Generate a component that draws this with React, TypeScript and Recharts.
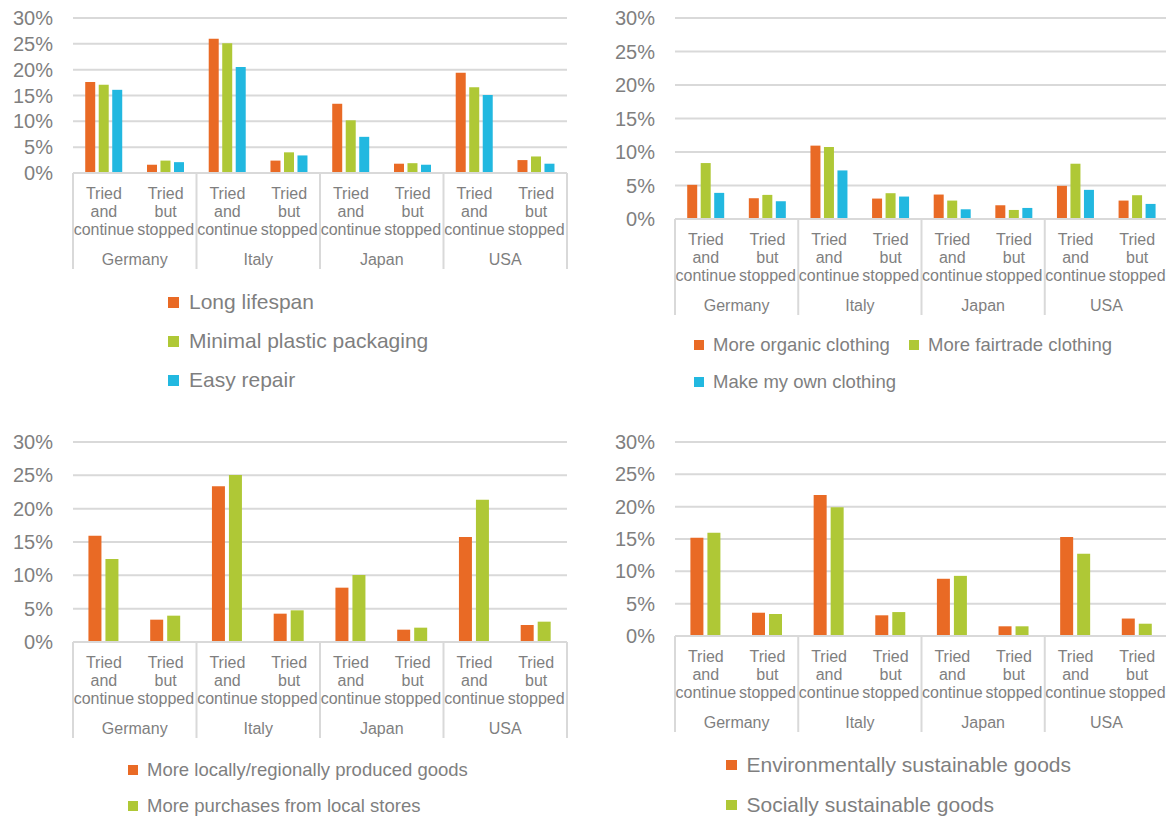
import { BarChart, Bar, XAxis, YAxis, CartesianGrid } from "recharts";

const countries = ["Germany", "Italy", "Japan", "USA"];
const statuses = ["Tried and continue", "Tried but stopped"];
const yTicks = [0, 5, 10, 15, 20, 25, 30];

// % of respondents, order: Germany continue, Germany stopped, Italy continue, ...
const longLifespan = [17.6, 1.6, 26.0, 2.4, 13.4, 1.8, 19.4, 2.5];
const minimalPlastic = [17.1, 2.4, 25.1, 4.0, 10.2, 1.9, 16.6, 3.2];
const easyRepair = [16.1, 2.1, 20.5, 3.4, 7.0, 1.6, 15.1, 1.8];

const organicClothing = [5.1, 3.1, 10.95, 3.05, 3.65, 2.05, 4.95, 2.75];
const fairtradeClothing = [8.35, 3.6, 10.75, 3.85, 2.75, 1.35, 8.25, 3.55];
const ownClothing = [3.9, 2.65, 7.25, 3.35, 1.45, 1.65, 4.35, 2.25];

const localProduced = [15.95, 3.35, 23.35, 4.25, 8.15, 1.85, 15.75, 2.55];
const localStores = [12.45, 3.95, 25.05, 4.75, 10.05, 2.15, 21.35, 3.05];

const envGoods = [15.2, 3.6, 21.8, 3.2, 8.85, 1.5, 15.3, 2.7];
const socialGoods = [15.95, 3.4, 19.9, 3.7, 9.3, 1.5, 12.7, 1.9];

const ORANGE = "#E96A25";
const GREEN = "#AFC836";
const BLUE = "#22B8E0";
const GRID = "#D9D9D9";
const TEXT = "#7F7F7F";
const FONT = "Arial, 'Liberation Sans', Helvetica, sans-serif";

type Series = { name: string; color: string; values: number[] };
type LegendSpot = { x: number; y: number };

type Panel = {
  left: number;
  top: number;
  width: number;
  height: number;
  yWidth: number;
  right: number;
  categoryGap: string;
  barGap: number;
  series: Series[];
  legendFont: number;
  legendSquare: number;
  legendSpots: LegendSpot[];
};

const panels: Panel[] = [
  {
    left: 0, top: 0, width: 580, height: 273, yWidth: 73, right: 13,
    categoryGap: "19.8%", barGap: 3.5,
    series: [
      { name: "Long lifespan", color: ORANGE, values: longLifespan },
      { name: "Minimal plastic packaging", color: GREEN, values: minimalPlastic },
      { name: "Easy repair", color: BLUE, values: easyRepair },
    ],
    legendFont: 21, legendSquare: 11,
    legendSpots: [{ x: 168, y: 302 }, { x: 168, y: 341 }, { x: 168, y: 380 }],
  },
  {
    left: 600, top: 0, width: 580, height: 319, yWidth: 75, right: 12,
    categoryGap: "19.8%", barGap: 3.5,
    series: [
      { name: "More organic clothing", color: ORANGE, values: organicClothing },
      { name: "More fairtrade clothing", color: GREEN, values: fairtradeClothing },
      { name: "Make my own clothing", color: BLUE, values: ownClothing },
    ],
    legendFont: 18.5, legendSquare: 10,
    legendSpots: [{ x: 694, y: 345 }, { x: 909, y: 345 }, { x: 694, y: 382 }],
  },
  {
    left: 0, top: 424, width: 580, height: 318, yWidth: 73, right: 13,
    categoryGap: "25%", barGap: 4,
    series: [
      { name: "More locally/regionally produced goods", color: ORANGE, values: localProduced },
      { name: "More purchases from local stores", color: GREEN, values: localStores },
    ],
    legendFont: 18.5, legendSquare: 10,
    legendSpots: [{ x: 128, y: 770 }, { x: 128, y: 806 }],
  },
  {
    left: 600, top: 424, width: 580, height: 312, yWidth: 75, right: 12,
    categoryGap: "25%", barGap: 4,
    series: [
      { name: "Environmentally sustainable goods", color: ORANGE, values: envGoods },
      { name: "Socially sustainable goods", color: GREEN, values: socialGoods },
    ],
    legendFont: 21, legendSquare: 10.5,
    legendSpots: [{ x: 726, y: 765 }, { x: 726, y: 805 }],
  },
];

function buildRows(series: Series[]) {
  const rows: Record<string, string | number>[] = [];
  countries.forEach((country, ci) => {
    statuses.forEach((status, si) => {
      const i = ci * statuses.length + si;
      const row: Record<string, string | number> = { key: `${country}|${status}` };
      series.forEach((s, k) => {
        row[`s${k}`] = s.values[i];
      });
      rows.push(row);
    });
  });
  return rows;
}

// two-level category tick: status words stacked, country under each pair, separators between countries
function CategoryTick(props: any) {
  const { x, y, payload, index, half, total } = props;
  const [country, status] = String(payload.value).split("|");
  const words = status.split(" ");
  const first = index % statuses.length === 0;
  return (
    <g>
      {first && (
        <line x1={x - half} x2={x - half} y1={y} y2={y + 96} stroke={GRID} strokeWidth={2} />
      )}
      {index === total - 1 && (
        <line x1={x + half} x2={x + half} y1={y} y2={y + 96} stroke={GRID} strokeWidth={2} />
      )}
      <text textAnchor="middle" fill={TEXT} fontSize={16} fontFamily={FONT}>
        {words.map((w, k) => (
          <tspan key={k} x={x} y={y + 25.5 + k * 18.4}>
            {w}
          </tspan>
        ))}
      </text>
      {first && (
        <text x={x + half} y={y + 91.5} textAnchor="middle" fill={TEXT} fontSize={16} fontFamily={FONT}>
          {country}
        </text>
      )}
    </g>
  );
}

function PanelChart({ panel }: { panel: Panel }) {
  const rows = buildRows(panel.series);
  const plotWidth = panel.width - panel.yWidth - panel.right;
  const half = plotWidth / rows.length / 2;
  return (
    <div style={{ position: "absolute", left: panel.left, top: panel.top }}>
      <BarChart
        width={panel.width}
        height={panel.height}
        data={rows}
        margin={{ top: 18, right: panel.right, left: 0, bottom: 0 }}
        barCategoryGap={panel.categoryGap}
        barGap={panel.barGap}
      >
        <CartesianGrid vertical={false} stroke={GRID} strokeWidth={2} />
        <XAxis
          dataKey="key"
          height={100}
          interval={0}
          tickSize={0}
          tickMargin={0}
          tickLine={false}
          axisLine={{ stroke: GRID, strokeWidth: 2 }}
          tick={(p: any) => <CategoryTick {...p} half={half} total={rows.length} />}
        />
        <YAxis
          width={panel.yWidth}
          domain={[0, 30]}
          ticks={yTicks}
          interval={0}
          tickSize={0}
          tickMargin={20}
          axisLine={false}
          tickLine={false}
          tickFormatter={(v) => `${v}%`}
          tick={{ fill: TEXT, fontSize: 20, fontFamily: FONT }}
        />
        {panel.series.map((s, k) => (
          <Bar key={s.name} dataKey={`s${k}`} name={s.name} fill={s.color} isAnimationActive={false} />
        ))}
      </BarChart>
    </div>
  );
}

function PanelLegend({ panel }: { panel: Panel }) {
  const h = 30;
  return (
    <>
      {panel.series.map((s, k) => {
        const spot = panel.legendSpots[k];
        return (
          <div
            key={s.name}
            style={{
              position: "absolute",
              left: spot.x,
              top: spot.y - h / 2,
              height: h,
              display: "flex",
              alignItems: "center",
              whiteSpace: "nowrap",
              fontFamily: FONT,
              fontSize: panel.legendFont,
              color: TEXT,
            }}
          >
            <span
              style={{
                display: "inline-block",
                width: panel.legendSquare,
                height: panel.legendSquare,
                background: s.color,
                marginRight: panel.legendFont > 20 ? 10 : 9,
              }}
            />
            {s.name}
          </div>
        );
      })}
    </>
  );
}

export default function App() {
  return (
    <div
      style={{
        position: "absolute",
        left: 0,
        top: 0,
        width: 1166,
        height: 816,
        overflow: "hidden",
        background: "#fff",
      }}
    >
      {panels.map((p, i) => (
        <PanelChart key={i} panel={p} />
      ))}
      {panels.map((p, i) => (
        <PanelLegend key={i} panel={p} />
      ))}
    </div>
  );
}
